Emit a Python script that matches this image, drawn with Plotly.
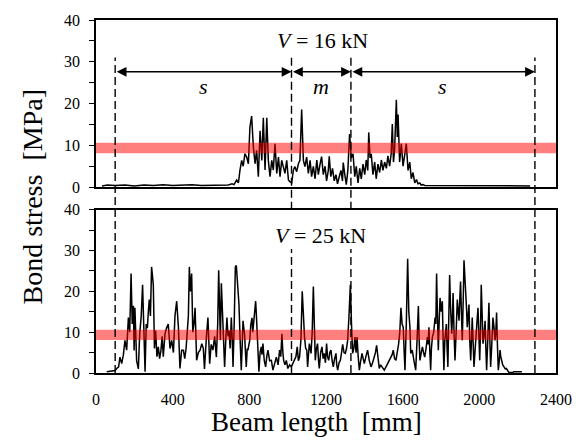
import plotly.graph_objects as go

# ---------------- data ----------------
top_x = [31, 60, 100, 150, 200, 250, 300, 350, 400, 450, 500, 550, 600, 650, 690, 710,
         720, 734, 743, 751, 760, 768, 777, 786, 795, 803, 812, 821, 830, 838, 847, 856,
         865, 873, 882, 891, 899, 908, 917, 925, 934, 943, 952, 960, 969, 977, 986, 995,
         1004, 1012, 1021, 1030, 1038, 1047, 1056, 1064, 1073, 1082, 1090, 1099, 1108, 1117,
         1125, 1134, 1143, 1152, 1160, 1169, 1177, 1186, 1195, 1203, 1212, 1217, 1225, 1234,
         1243, 1252, 1260, 1269, 1278, 1286, 1290, 1298, 1306, 1314, 1323, 1332, 1341, 1350,
         1358, 1367, 1376, 1384, 1393, 1402, 1410, 1418, 1423, 1430, 1436, 1445, 1454, 1462,
         1471, 1480, 1489, 1497, 1506, 1515, 1523, 1532, 1540, 1546, 1552, 1558, 1567, 1572,
         1576, 1584, 1593, 1602, 1610, 1619, 1628, 1637, 1645, 1654, 1663, 1672, 1680, 1689,
         1697, 1706, 1715, 1730, 1760, 1800, 1850, 1900, 1950, 2000, 2050, 2100, 2150, 2200,
         2265]
top_y = [0.3, 0.5, 0.4, 0.5, 0.3, 0.5, 0.4, 0.6, 0.4, 0.5, 0.6, 0.4, 0.5, 0.6, 0.5, 0.8,
         0.6, 1.7, 1.0, 4.0, 6.4, 5.0, 8.0, 7.2, 5.6, 14.3, 17.0, 9.6, 5.6, 8.8, 2.5, 13.5,
         6.4, 16.6, 4.1, 16.6, 6.4, 2.5, 6.4, 4.1, 10.4, 3.3, 7.2, 2.5, 6.4, 4.9, 3.3, 6.4,
         1.7, 1.3, 1.0, 4.1, 4.9, 3.7, 5.6, 6.4, 18.6, 6.4, 4.9, 7.2, 3.3, 6.4,
         2.5, 5.0, 2.0, 6.5, 3.0, 5.5, 7.3, 3.0, 5.0, 1.5, 4.0, 7.4, 2.5, 4.5,
         1.5, 3.0, 0.8, 2.5, 4.0, 1.5, 5.9, 3.0, 0.6, 4.0, 12.7, 7.0, 8.0, 2.5,
         5.0, 1.0, 4.5, 2.0, 5.5, 3.0, 6.5, 4.0, 13.1, 7.0, 8.0, 3.0, 6.0, 2.0,
         5.5, 3.5, 6.5, 4.0, 6.0, 4.5, 7.5, 5.0, 8.0, 15.1, 6.0, 9.0, 20.9, 12.0,
         17.4, 6.0, 10.4, 5.0, 8.0, 10.4, 4.0, 6.0, 2.0, 3.5, 1.0, 1.8, 0.8, 1.0,
         0.5, 0.6, 0.4, 0.4, 0.3, 0.4, 0.3, 0.4, 0.3, 0.4, 0.3, 0.4, 0.3, 0.4,
         0.3]

bot_x = [56, 80, 99, 108, 118, 125, 134, 143, 151, 160, 169, 176, 183, 189, 195, 199, 203,
         212, 221, 228, 236, 243, 250, 256, 262, 268, 273, 278, 284, 290, 299, 305, 311, 318,
         325, 332, 339, 345, 351, 360, 368, 377, 386, 395, 404, 412, 421, 430, 438, 447, 456,
         463, 470, 476, 482, 487, 493, 499, 505, 511, 517, 525, 534, 543, 552, 560,
         566, 576, 584, 593, 601, 610, 619, 628, 635, 640, 645, 649, 654, 659, 663, 667, 671,
         677, 683, 689, 694, 700, 706, 711, 715, 721, 727, 732, 737, 741, 746, 752, 758, 763,
         767, 771, 775, 780, 784, 789, 793, 798, 802, 808, 814, 818, 822, 828, 833, 837, 841,
         846, 850, 856, 862, 866, 871, 878, 885, 891, 897, 906, 915, 923, 932, 941, 950, 958,
         964, 970, 975, 979, 986, 993, 1001, 1010, 1019, 1028, 1036, 1043, 1050, 1056, 1062,
         1069, 1076, 1082, 1088, 1094, 1100,
         1104, 1113, 1122, 1128, 1134, 1139, 1144, 1150, 1156, 1161, 1165, 1172, 1179, 1185,
         1191, 1197, 1203, 1208, 1214, 1220, 1226, 1232, 1238, 1245, 1252, 1256, 1261, 1268,
         1275, 1281, 1287, 1294, 1301, 1307, 1313, 1320, 1327, 1333, 1339, 1345, 1351, 1357,
         1362, 1368, 1374, 1381, 1388, 1394, 1400, 1408, 1417, 1426, 1435, 1443, 1452, 1458,
         1464, 1471, 1478, 1485, 1492, 1498, 1504, 1513, 1522, 1530, 1539, 1545, 1551, 1558,
         1565, 1572, 1579, 1585, 1591, 1597, 1603, 1608, 1612, 1619, 1626, 1632, 1638,
         1642, 1650, 1659, 1668, 1675, 1682, 1686, 1690, 1697, 1703, 1709, 1715, 1722, 1729,
         1733, 1737, 1742, 1746, 1750, 1755, 1762, 1769, 1773, 1777, 1781, 1786, 1790, 1795,
         1801, 1807, 1811, 1815, 1820, 1828, 1832, 1836, 1840, 1845, 1850, 1856, 1860, 1863,
         1868, 1873, 1879, 1885, 1890, 1894, 1898, 1902, 1907, 1911, 1916, 1920, 1924, 1928,
         1933, 1937, 1942, 1946, 1950, 1955, 1959, 1963, 1968, 1972, 1977, 1981, 1987, 1993,
         1998, 2002, 2006, 2010, 2015, 2019, 2024, 2030, 2034, 2038, 2044, 2050, 2055, 2059,
         2065, 2071, 2077, 2082, 2086, 2090, 2095, 2099, 2104, 2108, 2112, 2116, 2122, 2129,
         2135, 2141, 2148, 2155, 2175, 2180, 2222]
bot_y = [0.3, 0.4, 0.6, 1.1, 1.5, 3.9, 2.3, 4.5, 8.0, 5.6, 13.6, 10.0, 24.4, 12.0, 16.5, 5.5, 16.0,
         3.0, 1.0, 9.6, 14.0, 21.6, 6.0, 0.3, 12.0, 11.0, 15.0, 18.0, 14.0, 26.0, 21.6, 6.0, 10.4, 4.0,
         6.4, 3.5, 5.6, 9.0, 4.0, 9.6, 11.0, 12.0, 6.0, 8.0, 5.0, 14.0, 17.6, 11.2, 1.1, 5.6, 5.6,
         3.5, 6.0, 9.6, 14.0, 26.0, 20.0, 24.4, 10.0, 12.0, 16.0, 3.1, 5.0, 5.6, 7.2, 6.0,
         1.0, 8.8, 13.6, 2.3, 7.0, 5.6, 9.0, 3.9, 12.0, 25.2, 14.0, 8.0, 22.0, 16.0, 12.8, 6.0, 1.5,
         8.0, 13.6, 9.0, 10.4, 6.0, 13.6, 8.0, 1.5, 12.0, 26.0, 26.4, 22.0, 20.0, 16.8, 8.0, 0.7, 7.0,
         12.8, 11.0, 9.6, 5.0, 1.5, 6.0, 5.6, 7.0, 8.0, 12.0, 13.5, 10.0, 12.0, 15.0, 17.6, 14.0, 8.8,
         4.0, 0.3, 5.0, 6.4, 4.5, 7.2, 3.0, 1.5, 4.0, 5.6, 3.0, 3.1, 0.7, 2.5, 3.9, 2.0, 5.6,
         4.0, 9.6, 5.0, 3.1, 2.0, 3.1, 1.1, 2.0, 1.5, 2.5, 3.1, 4.0, 6.4, 3.0, 3.9,
         8.0, 20.0, 12.0, 8.8, 6.0, 5.6,
         1.5, 7.2, 4.8, 10.0, 21.2, 9.0, 3.1, 6.0, 7.2, 3.0, 1.1, 5.0, 6.4, 3.5,
         4.8, 2.5, 7.2, 4.0, 3.1, 5.0, 5.6, 3.0, 1.5, 3.5, 4.8, 2.0, 0.7, 2.5,
         3.1, 5.0, 7.0, 5.0, 4.8, 6.0, 8.0, 14.0, 21.6, 12.0, 4.8, 6.0, 8.8, 5.0,
         8.8, 4.0, 0.7, 3.0, 4.8, 3.5, 2.3, 4.0, 5.6, 3.0, 1.5, 2.5, 3.9, 5.0,
         6.8, 3.0, 1.1, 2.0, 1.5, 1.0, 0.7, 1.5, 2.3, 3.0, 3.9, 4.5, 5.6, 3.5,
         3.1, 5.0, 7.2, 10.0, 16.0, 12.0, 11.2, 5.0, 0.7, 12.0, 28.0, 15.0, 11.2,
         4.8, 5.6, 3.0, 0.7, 8.0, 16.4, 8.0, 3.1, 5.0, 6.4, 5.0, 3.9, 6.0, 8.8,
         7.0, 11.2, 5.0, 0.7, 6.0, 8.8, 10.0, 13.6, 12.0, 24.4, 15.0, 5.6, 12.0, 18.4,
         15.0, 17.6, 8.0, 0.7, 8.0, 12.0, 6.0, 1.5, 12.0, 24.0, 16.0, 9.6, 14.0, 19.6,
         10.0, 3.1, 10.0, 18.0, 15.0, 12.8, 18.0, 22.4, 14.0, 8.0, 18.0, 27.6, 24.0, 21.2,
         16.0, 11.2, 14.0, 16.8, 8.0, 3.1, 8.0, 13.6, 7.0, 1.5, 5.0, 8.8, 12.0, 16.0,
         8.0, 3.1, 10.0, 21.6, 14.0, 7.2, 9.0, 12.8, 6.0, 0.7, 8.0, 17.2, 8.0, 1.5,
         7.0, 13.6, 11.0, 8.0, 10.0, 14.8, 6.0, 0.7, 3.0, 5.6, 4.0, 3.1, 2.0, 1.5,
         1.0, 1.1, 0.5, 0.1, 0.1, 0.3, 0.3]

x_ticks = [0, 400, 800, 1200, 1600, 2000, 2400]
y_ticks = [0, 10, 20, 30, 40]
band = [8.1, 10.6]                  # red band (MPa)
zone_x = [100, 1020, 1330, 2290]    # dashed boundaries (mm)
zone_labels = ["s", "m", "s"]
load_labels = ["16 kN", "25 kN"]

FONT = "Liberation Serif"

fig = go.Figure()
fig.add_trace(go.Scatter(x=top_x, y=top_y, mode="lines", xaxis="x", yaxis="y",
                         line=dict(color="black", width=1.5), showlegend=False))
fig.add_trace(go.Scatter(x=bot_x, y=bot_y, mode="lines", xaxis="x2", yaxis="y2",
                         line=dict(color="black", width=1.5), showlegend=False))

top_dom = [0.5265, 1.0]
bot_dom = [0.0, 0.4624]

axis_common = dict(range=[0, 2400], showline=True, linecolor="black", linewidth=1.5,
                   mirror=True, showgrid=False, zeroline=False, tickvals=x_ticks)
yaxis_common = dict(range=[0, 40], showline=True, linecolor="black", linewidth=1.5,
                    mirror=True, showgrid=False, zeroline=False, tickvals=y_ticks,
                    ticks="outside", ticklen=5, tickwidth=1.2, tickcolor="black",
                    minor=dict(dtick=5, ticks="outside", ticklen=5, tickwidth=1.2, tickcolor="black"),
                    tickfont=dict(family=FONT, size=16, color="black"), ticklabelstandoff=6)

fig.update_layout(
    width=584, height=443,
    margin=dict(l=96, r=28, t=14, b=70),
    paper_bgcolor="white", plot_bgcolor="white",
    xaxis=dict(domain=[0, 1], anchor="y", showticklabels=False, ticks="", **axis_common),
    yaxis=dict(domain=top_dom, anchor="x", **yaxis_common),
    xaxis2=dict(domain=[0, 1], anchor="y2", ticks="", showticklabels=True,
                tickfont=dict(family=FONT, size=16, color="black"), ticklabelstandoff=11,
                **axis_common),
    yaxis2=dict(domain=bot_dom, anchor="x2", **yaxis_common),
    font=dict(family=FONT, color="black"),
)

shapes = []
# red bands
for xr, yr in [("x", "y"), ("x2", "y2")]:
    shapes.append(dict(type="rect", xref=xr, yref=yr, x0=0, x1=2400, y0=band[0], y1=band[1],
                       fillcolor="rgba(255,0,0,0.5)", line=dict(width=0), layer="above"))
# dashed lines
dash_style = dict(color="black", width=1.4, dash="8px,4px")
top_start = 0.894
for i, xv in enumerate(zone_x):
    if i in (0, 3):
        shapes.append(dict(type="line", xref="x", yref="paper", x0=xv, x1=xv, y0=0, y1=top_start,
                           line=dash_style, layer="above"))
    else:
        shapes.append(dict(type="line", xref="x", yref="paper", x0=xv, x1=xv, y0=bot_dom[1],
                           y1=top_start, line=dash_style, layer="above"))
        shapes.append(dict(type="line", xref="x2", yref="y2", x0=xv, x1=xv, y0=0, y1=30.4,
                           line=dash_style, layer="above"))
fig.update_layout(shapes=shapes)

ann = []
# double-headed arrows and zone labels
arrow_y = 27.6
for i in range(3):
    ann.append(dict(x=zone_x[i + 1], y=arrow_y, ax=zone_x[i], ay=arrow_y, xref="x", yref="y",
                    axref="x", ayref="y", text="", showarrow=True, arrowside="end+start",
                    arrowhead=2, startarrowhead=2, arrowsize=1.4, startarrowsize=1.4,
                    arrowwidth=1.4, arrowcolor="black", standoff=0, startstandoff=0))
    ann.append(dict(x=(zone_x[i] + zone_x[i + 1]) / 2, y=24, xref="x", yref="y",
                    text="<i>%s</i>" % zone_labels[i], showarrow=False,
                    font=dict(family=FONT, size=22, color="black")))
# load labels
ann.append(dict(x=1180, y=35, xref="x", yref="y", text="<i>V</i> = " + load_labels[0],
                showarrow=False, font=dict(family=FONT, size=22, color="black")))
ann.append(dict(x=1170, y=33.8, xref="x2", yref="y2", text="<i>V</i> = " + load_labels[1],
                showarrow=False, font=dict(family=FONT, size=22, color="black")))
# axis titles
ann.append(dict(x=-0.137, y=0.5, xref="paper", yref="paper", text="Bond stress\u00a0\u00a0[MPa]",
                textangle=-90, showarrow=False, xanchor="center", yanchor="middle",
                font=dict(family=FONT, size=28, color="black")))
ann.append(dict(x=0.48, y=-0.14, xref="paper", yref="paper", text="Beam length\u00a0\u00a0[mm]",
                showarrow=False, xanchor="center", yanchor="middle",
                font=dict(family=FONT, size=27, color="black")))
fig.update_layout(annotations=ann)

fig.write_html("out.html")
